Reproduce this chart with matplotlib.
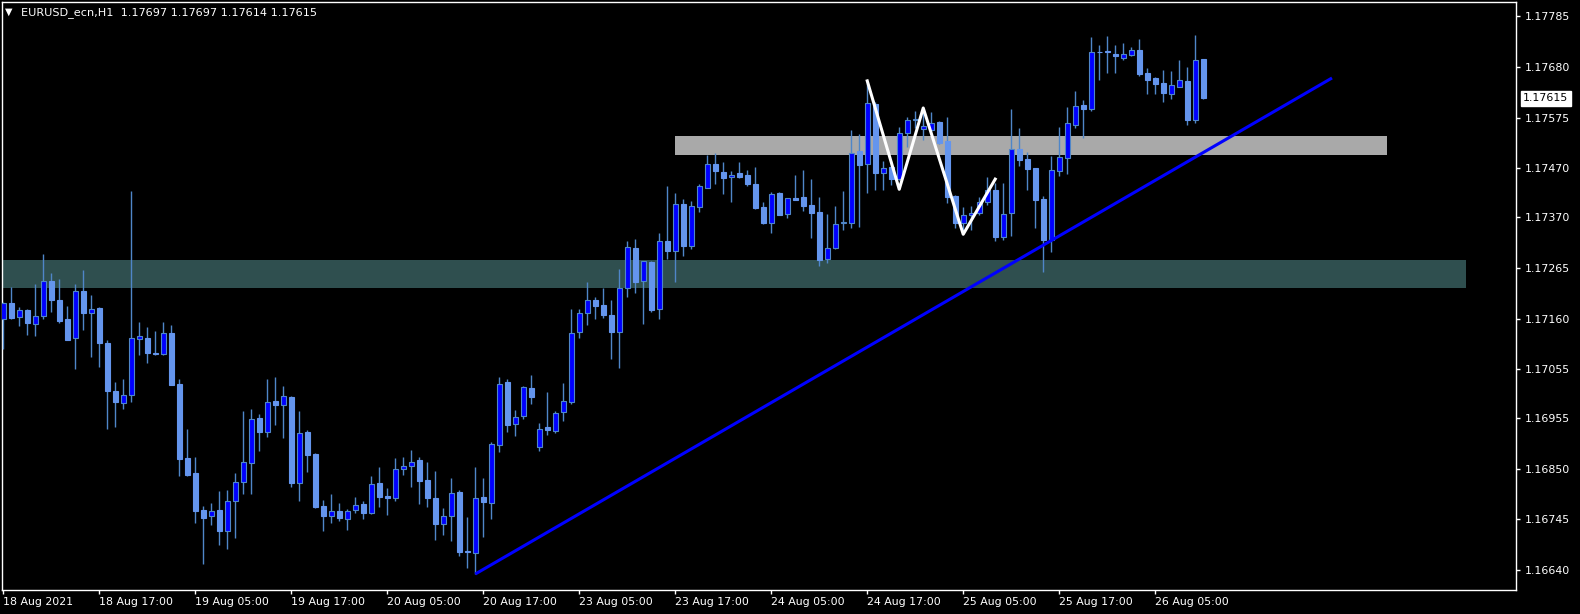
import numpy as np
import matplotlib
matplotlib.use('Agg')
import matplotlib.pyplot as plt
from matplotlib.patches import Rectangle
from matplotlib import transforms

symbol = 'EURUSD_ecn,H1'

# H1 свечи, 18 Aug 05:00 ... 26 Aug 11:00
opens = [
    1.17160, 1.17193, 1.17164, 1.17177, 1.17149, 1.17165, 1.17237, 1.17198, 1.17158, 1.17119,
    1.17217, 1.17172, 1.17181, 1.17109, 1.17011, 1.16986, 1.17001, 1.17118, 1.17120, 1.17088,
    1.17087, 1.17131, 1.17024, 1.16871, 1.16840, 1.16764, 1.16751, 1.16764, 1.16721, 1.16782,
    1.16823, 1.16862, 1.16954, 1.16926, 1.16989, 1.16982, 1.16998, 1.16820, 1.16925, 1.16881,
    1.16772, 1.16751, 1.16762, 1.16746, 1.16764, 1.16776, 1.16759, 1.16820, 1.16794, 1.16790,
    1.16849, 1.16855, 1.16867, 1.16826, 1.16790, 1.16736, 1.16751, 1.16801, 1.16680, 1.16676,
    1.16792, 1.16779, 1.16899, 1.17029, 1.16942, 1.16959, 1.17016, 1.16895, 1.16935, 1.16928,
    1.16966, 1.16987, 1.17132, 1.17172, 1.17198, 1.17188, 1.17167, 1.17132, 1.17224, 1.17305,
    1.17237, 1.17276, 1.17180, 1.17320, 1.17300, 1.17396, 1.17310, 1.17391, 1.17430, 1.17480,
    1.17463, 1.17452, 1.17460, 1.17456, 1.17438, 1.17390, 1.17358, 1.17419, 1.17375, 1.17409,
    1.17411, 1.17394, 1.17380, 1.17282, 1.17306, 1.17358, 1.17358, 1.17506, 1.17479, 1.17604,
    1.17461, 1.17474, 1.17448, 1.17544, 1.17570, 1.17552, 1.17549, 1.17566, 1.17527, 1.17413,
    1.17358, 1.17373, 1.17379, 1.17401, 1.17425, 1.17328, 1.17379, 1.17510, 1.17489, 1.17471,
    1.17407, 1.17322, 1.17465, 1.17491, 1.17560, 1.17601, 1.17592, 1.17711, 1.17713, 1.17707,
    1.17699, 1.17705, 1.17715, 1.17667, 1.17657, 1.17646, 1.17624, 1.17639, 1.17651, 1.17570,
    1.17697,
]
highs = [
    1.17195, 1.17226, 1.17184, 1.17179, 1.17231, 1.17293, 1.17255, 1.17241, 1.17185, 1.17231,
    1.17260, 1.17208, 1.17183, 1.17115, 1.17029, 1.17035, 1.17423, 1.17153, 1.17142, 1.17135,
    1.17153, 1.17146, 1.17036, 1.16932, 1.16873, 1.16772, 1.16778, 1.16803, 1.16806, 1.16840,
    1.16968, 1.16974, 1.16962, 1.17036, 1.17039, 1.17020, 1.17000, 1.16968, 1.16929, 1.16883,
    1.16785, 1.16797, 1.16778, 1.16766, 1.16792, 1.16783, 1.16834, 1.16853, 1.16809, 1.16871,
    1.16873, 1.16888, 1.16873, 1.16863, 1.16844, 1.16768, 1.16830, 1.16805, 1.16749, 1.16853,
    1.16830, 1.16904, 1.17040, 1.17035, 1.16971, 1.17020, 1.17043, 1.16945, 1.17008, 1.16968,
    1.17027, 1.17179, 1.17179, 1.17235, 1.17204, 1.17222, 1.17198, 1.17262, 1.17320, 1.17324,
    1.17278, 1.17279, 1.17337, 1.17434, 1.17419, 1.17407, 1.17403, 1.17438, 1.17498, 1.17501,
    1.17483, 1.17464, 1.17483, 1.17466, 1.17473, 1.17400, 1.17422, 1.17421, 1.17410, 1.17456,
    1.17467, 1.17448, 1.17412, 1.17376, 1.17392, 1.17424, 1.17549, 1.17541, 1.17646, 1.17608,
    1.17486, 1.17486, 1.17556, 1.17577, 1.17589, 1.17589, 1.17586, 1.17569, 1.17576, 1.17415,
    1.17391, 1.17392, 1.17411, 1.17452, 1.17440, 1.17440, 1.17593, 1.17553, 1.17504, 1.17472,
    1.17413, 1.17495, 1.17555, 1.17597, 1.17630, 1.17611, 1.17741, 1.17725, 1.17744, 1.17725,
    1.17729, 1.17721, 1.17737, 1.17677, 1.17660, 1.17673, 1.17672, 1.17695, 1.17679, 1.17746,
    1.17697,
]
lows = [
    1.17098, 1.17158, 1.17145, 1.17126, 1.17124, 1.17158, 1.17173, 1.17151, 1.17116, 1.17056,
    1.17137, 1.17081, 1.17060, 1.16932, 1.16936, 1.16973, 1.16987, 1.17085, 1.17068, 1.17084,
    1.17084, 1.17023, 1.16835, 1.16834, 1.16737, 1.16653, 1.16733, 1.16692, 1.16683, 1.16707,
    1.16798, 1.16798, 1.16886, 1.16915, 1.16940, 1.16913, 1.16812, 1.16783, 1.16843, 1.16768,
    1.16721, 1.16737, 1.16741, 1.16722, 1.16758, 1.16745, 1.16757, 1.16770, 1.16754, 1.16783,
    1.16837, 1.16812, 1.16776, 1.16770, 1.16703, 1.16713, 1.16700, 1.16670, 1.16645, 1.16632,
    1.16708, 1.16745, 1.16885, 1.16926, 1.16918, 1.16952, 1.16983, 1.16886, 1.16919, 1.16923,
    1.16949, 1.16983, 1.17120, 1.17146, 1.17158, 1.17162, 1.17077, 1.17058, 1.17205, 1.17213,
    1.17149, 1.17174, 1.17158, 1.17282, 1.17235, 1.17290, 1.17304, 1.17381, 1.17430, 1.17438,
    1.17418, 1.17401, 1.17450, 1.17433, 1.17387, 1.17355, 1.17337, 1.17373, 1.17367, 1.17404,
    1.17383, 1.17326, 1.17269, 1.17275, 1.17304, 1.17343, 1.17347, 1.17350, 1.17420, 1.17426,
    1.17426, 1.17435, 1.17446, 1.17515, 1.17553, 1.17528, 1.17545, 1.17520, 1.17399, 1.17347,
    1.17341, 1.17343, 1.17373, 1.17395, 1.17320, 1.17323, 1.17330, 1.17475, 1.17425, 1.17346,
    1.17256, 1.17298, 1.17454, 1.17459, 1.17554, 1.17532, 1.17589, 1.17652, 1.17668, 1.17668,
    1.17695, 1.17702, 1.17661, 1.17623, 1.17623, 1.17608, 1.17614, 1.17638, 1.17560, 1.17563,
    1.17614,
]
closes = [
    1.17193, 1.17162, 1.17177, 1.17151, 1.17166, 1.17237, 1.17199, 1.17154, 1.17116, 1.17216,
    1.17172, 1.17180, 1.17110, 1.17010, 1.16987, 1.17001, 1.17119, 1.17123, 1.17089, 1.17086,
    1.17131, 1.17023, 1.16870, 1.16837, 1.16763, 1.16748, 1.16763, 1.16721, 1.16782, 1.16823,
    1.16864, 1.16953, 1.16926, 1.16988, 1.16982, 1.16999, 1.16820, 1.16924, 1.16878, 1.16770,
    1.16752, 1.16762, 1.16748, 1.16762, 1.16775, 1.16758, 1.16819, 1.16791, 1.16790, 1.16850,
    1.16856, 1.16864, 1.16824, 1.16790, 1.16736, 1.16751, 1.16800, 1.16677, 1.16678, 1.16790,
    1.16780, 1.16900, 1.17025, 1.16940, 1.16957, 1.17018, 1.16998, 1.16932, 1.16930, 1.16965,
    1.16989, 1.17131, 1.17172, 1.17199, 1.17185, 1.17167, 1.17132, 1.17222, 1.17308, 1.17235,
    1.17278, 1.17177, 1.17320, 1.17299, 1.17396, 1.17310, 1.17392, 1.17433, 1.17480, 1.17464,
    1.17451, 1.17457, 1.17452, 1.17438, 1.17388, 1.17358, 1.17418, 1.17373, 1.17408, 1.17404,
    1.17393, 1.17378, 1.17281, 1.17305, 1.17356, 1.17359, 1.17503, 1.17478, 1.17606, 1.17461,
    1.17472, 1.17449, 1.17543, 1.17571, 1.17572, 1.17557, 1.17565, 1.17522, 1.17411, 1.17358,
    1.17373, 1.17379, 1.17401, 1.17426, 1.17328, 1.17375, 1.17510, 1.17487, 1.17469, 1.17405,
    1.17322, 1.17466, 1.17493, 1.17563, 1.17600, 1.17592, 1.17710, 1.17710, 1.17710, 1.17703,
    1.17706, 1.17714, 1.17665, 1.17653, 1.17645, 1.17626, 1.17642, 1.17652, 1.17570, 1.17695,
    1.17615,
]

time_labels = ['18 Aug 2021', '18 Aug 17:00', '19 Aug 05:00', '19 Aug 17:00',
               '20 Aug 05:00', '20 Aug 17:00', '23 Aug 05:00', '23 Aug 17:00',
               '24 Aug 05:00', '24 Aug 17:00', '25 Aug 05:00', '25 Aug 17:00',
               '26 Aug 05:00']
label_step = 12  # метка каждые 12 баров

price_ticks = [1.17785, 1.17680, 1.17575, 1.17470, 1.17370, 1.17265,
               1.17160, 1.17055, 1.16955, 1.16850, 1.16745, 1.16640]

# уровни и линии, нарисованные на графике
support_zone = [1.17223, 1.17280]
support_bars = [-0.2, 182.8]
resist_zone = [1.17498, 1.17537]
resist_bars = [84.0, 173.0]
trend_bars = [59.0, 166.1]
trend_prices = [1.16632, 1.17657]
zigzag_bars = [108, 112, 115, 120, 124]
zigzag_prices = [1.17651, 1.17427, 1.17595, 1.17334, 1.17448]

BULL = '#0000FF'
BEAR = '#6495ED'
WICK = '#4F86C8'

W, H = 1580, 614
fig = plt.figure(figsize=(W / 100, H / 100), dpi=100, facecolor='black')
ax = fig.add_axes([2 / W, 24 / H, 1514 / W, 588 / H])
ax.set_facecolor('black')
ax.set_xlim(-0.16, 189.1)
ax.set_ylim(1.16599, 1.17814)

# зоны (фон)
ax.add_patch(Rectangle((support_bars[0], support_zone[0]), support_bars[1] - support_bars[0],
                       support_zone[1] - support_zone[0], fc='#2F4F4F', ec='none', zorder=1))
ax.add_patch(Rectangle((resist_bars[0], resist_zone[0]), resist_bars[1] - resist_bars[0],
                       resist_zone[1] - resist_zone[0], fc='#A9A9A9', ec='none', zorder=1))

# свечи
x = np.arange(len(opens))
ax.vlines(x, lows, highs, color=WICK, lw=1, zorder=3)
bw = 0.6
for i in range(len(opens)):
    o, c = opens[i], closes[i]
    lo = min(o, c)
    h = max(abs(c - o), 0.000012)
    if c > o:
        ax.add_patch(Rectangle((i - bw / 2, lo), bw, h, fc=BULL, ec=WICK, lw=0.8, zorder=4))
    else:
        ax.add_patch(Rectangle((i - bw / 2, lo), bw, h, fc=BEAR, ec=BEAR, lw=0.8, zorder=4))

# трендовая линия и зигзаг
ax.plot(trend_bars, trend_prices, color='#0000FF', lw=2.2, zorder=5, solid_capstyle='butt')
ax.plot(zigzag_bars, zigzag_prices, color='white', lw=2.2, zorder=6)

for s in ax.spines.values():
    s.set_color('white')
    s.set_linewidth(1)

fs = 7.9
ax.yaxis.tick_right()
ax.set_yticks(price_ticks)
ax.set_yticklabels([f'{p:.5f}' for p in price_ticks])
ax.tick_params(axis='y', direction='out', length=3, width=1, color='white',
               labelcolor='white', labelsize=fs, pad=3)

ax.set_xticks(range(0, label_step * len(time_labels), label_step))
ax.set_xticklabels(time_labels)
for lbl in ax.get_xticklabels():
    lbl.set_horizontalalignment('left')
ax.tick_params(axis='x', direction='out', length=3, width=1, color='white',
               labelcolor='white', labelsize=fs, pad=2)

# текущая цена
trans = transforms.blended_transform_factory(ax.transAxes, ax.transData)
ax.annotate(f'{closes[-1]:.5f}', xy=(1, closes[-1]), xycoords=trans,
            xytext=(5.2, 0), textcoords='offset points', va='center', ha='left',
            fontsize=fs, color='black', annotation_clip=False,
            bbox=dict(boxstyle='square,pad=0.22', fc='white', ec='white'))

# заголовок
fig.text(5 / W, 1 - 12 / H, '▼', color='white', fontsize=7, va='center', ha='left')
fig.text(21 / W, 1 - 13 / H,
         f'{symbol}  {opens[-1]:.5f} {highs[-1]:.5f} {lows[-1]:.5f} {closes[-1]:.5f}',
         color='white', fontsize=8.1, va='center', ha='left')

fig.savefig('out.png', dpi=100, facecolor='black')
